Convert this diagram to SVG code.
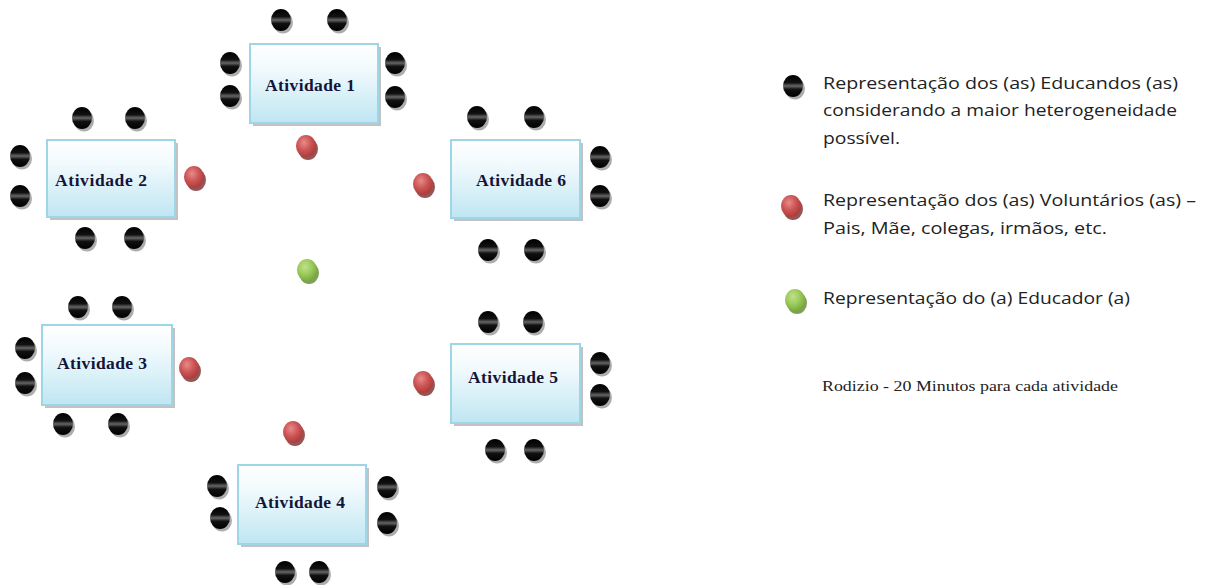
<svg xmlns="http://www.w3.org/2000/svg" xmlns:xlink="http://www.w3.org/1999/xlink" width="1211" height="585" viewBox="0 0 1211 585">
<style>
.tbl{fill:url(#tg);stroke:#9ed6e8;stroke-width:2}
.sh{fill:#a8a8a8;opacity:0.7}
.lbl{font-family:"Liberation Serif","Times New Roman",serif;font-weight:bold;font-size:17.5px;fill:#141438;text-anchor:middle}
.leg{font-family:"Open Sans","Liberation Sans",sans-serif;font-size:17px;fill:#222}
.rod{font-family:"Liberation Serif",serif;font-size:14px;fill:#222}
</style>
<defs>
<linearGradient id="tg" x1="0" y1="0" x2="0" y2="1">
<stop offset="0" stop-color="#ffffff"/><stop offset="0.3" stop-color="#f2fafd"/><stop offset="1" stop-color="#bfe6f2"/>
</linearGradient>
<linearGradient id="bk" x1="0" y1="0" x2="0" y2="1">
<stop offset="0" stop-color="#000"/><stop offset="0.35" stop-color="#111"/><stop offset="0.5" stop-color="#666"/><stop offset="0.65" stop-color="#111"/><stop offset="1" stop-color="#000"/>
</linearGradient>
<radialGradient id="rd" cx="0.4" cy="0.35" r="0.7">
<stop offset="0" stop-color="#e88a8a"/><stop offset="0.5" stop-color="#cc5555"/><stop offset="1" stop-color="#a83838"/>
</radialGradient>
<radialGradient id="gr" cx="0.4" cy="0.35" r="0.7">
<stop offset="0" stop-color="#c2e08a"/><stop offset="0.5" stop-color="#9ccb5c"/><stop offset="1" stop-color="#74a63a"/>
</radialGradient>
<g id="b">
<ellipse cx="2" cy="2.5" rx="10" ry="11" fill="#777" opacity="0.6"/>
<ellipse cx="0" cy="0" rx="10" ry="11" fill="url(#bk)"/>
</g>
<g id="r">
<ellipse cx="2" cy="3" rx="10" ry="11" fill="#7a2a2a" opacity="0.8"/>
<ellipse cx="0" cy="0" rx="10" ry="11" fill="url(#rd)"/>
</g>
<g id="g">
<ellipse cx="2" cy="3" rx="10" ry="11" fill="#5e8a2c" opacity="0.8"/>
<ellipse cx="0" cy="0" rx="10" ry="11" fill="url(#gr)"/>
</g>
</defs>
<rect width="1211" height="585" fill="#fff"/>

<g id="atividade1">
<rect class="sh" x="253" y="47" width="128" height="79"/>
<rect class="tbl" x="250" y="44" width="128" height="79"/>
<text class="lbl" x="310" y="91" textLength="90">Atividade 1</text>
<use xlink:href="#b" x="281" y="20"/><use xlink:href="#b" x="337" y="20"/>
<use xlink:href="#b" x="230" y="63"/><use xlink:href="#b" x="230" y="96"/>
<use xlink:href="#b" x="395" y="63"/><use xlink:href="#b" x="395" y="97"/>
<use xlink:href="#r" x="306" y="146"/>
</g>

<g id="atividade2">
<rect class="sh" x="50" y="143" width="128" height="77"/>
<rect class="tbl" x="47" y="140" width="128" height="77"/>
<text class="lbl" x="101" y="186" textLength="92">Atividade 2</text>
<use xlink:href="#b" x="82" y="118"/><use xlink:href="#b" x="135" y="118"/>
<use xlink:href="#b" x="20" y="156"/><use xlink:href="#b" x="20" y="196"/>
<use xlink:href="#b" x="85" y="238"/><use xlink:href="#b" x="134" y="238"/>
<use xlink:href="#r" x="194" y="177"/>
</g>

<g id="atividade3">
<rect class="sh" x="45" y="328" width="130" height="80"/>
<rect class="tbl" x="42" y="325" width="130" height="80"/>
<text class="lbl" x="102" y="369" textLength="90">Atividade 3</text>
<use xlink:href="#b" x="78" y="307"/><use xlink:href="#b" x="122" y="307"/>
<use xlink:href="#b" x="25" y="348"/><use xlink:href="#b" x="25" y="383"/>
<use xlink:href="#b" x="63" y="424"/><use xlink:href="#b" x="118" y="424"/>
<use xlink:href="#r" x="189" y="368"/>
</g>

<g id="atividade4">
<rect class="sh" x="241" y="468" width="128" height="79"/>
<rect class="tbl" x="238" y="465" width="128" height="79"/>
<text class="lbl" x="300" y="508" textLength="90">Atividade 4</text>
<use xlink:href="#b" x="217" y="486"/><use xlink:href="#b" x="220" y="518"/>
<use xlink:href="#b" x="387" y="487"/><use xlink:href="#b" x="387" y="523"/>
<use xlink:href="#b" x="285" y="572"/><use xlink:href="#b" x="319" y="572"/>
<use xlink:href="#r" x="293" y="432"/>
</g>

<g id="atividade5">
<rect class="sh" x="454" y="347" width="129" height="79"/>
<rect class="tbl" x="451" y="344" width="129" height="79"/>
<text class="lbl" x="513" y="383" textLength="90">Atividade 5</text>
<use xlink:href="#b" x="488" y="322"/><use xlink:href="#b" x="533" y="322"/>
<use xlink:href="#b" x="600" y="363"/><use xlink:href="#b" x="600" y="395"/>
<use xlink:href="#b" x="495" y="450"/><use xlink:href="#b" x="534" y="450"/>
<use xlink:href="#r" x="423" y="382"/>
</g>

<g id="atividade6">
<rect class="sh" x="454" y="143" width="129" height="78"/>
<rect class="tbl" x="451" y="140" width="129" height="78"/>
<text class="lbl" x="521" y="186" textLength="90">Atividade 6</text>
<use xlink:href="#b" x="477" y="117"/><use xlink:href="#b" x="534" y="117"/>
<use xlink:href="#b" x="600" y="157"/><use xlink:href="#b" x="600" y="196"/>
<use xlink:href="#b" x="488" y="250"/><use xlink:href="#b" x="534" y="250"/>
<use xlink:href="#r" x="423" y="184"/>
</g>

<g id="educador">
<use xlink:href="#g" x="307" y="270"/>
</g>

<g id="legenda">
<use xlink:href="#b" x="793" y="86"/>
<text class="leg" x="823" y="89" textLength="355" lengthAdjust="spacingAndGlyphs">Representação dos (as) Educandos (as)</text>
<text class="leg" x="823" y="116" textLength="354" lengthAdjust="spacingAndGlyphs">considerando a maior heterogeneidade</text>
<text class="leg" x="823" y="144" textLength="77" lengthAdjust="spacingAndGlyphs">possível.</text>
<use xlink:href="#r" x="791" y="206"/>
<text class="leg" x="823" y="206" textLength="373" lengthAdjust="spacingAndGlyphs">Representação dos (as) Voluntários (as) –</text>
<text class="leg" x="823" y="234" textLength="284" lengthAdjust="spacingAndGlyphs">Pais, Mãe, colegas, irmãos, etc.</text>
<use xlink:href="#g" x="795" y="300"/>
<text class="leg" x="823" y="304" textLength="307" lengthAdjust="spacingAndGlyphs">Representação do (a) Educador (a)</text>
<text class="rod" x="822" y="391" textLength="296" lengthAdjust="spacingAndGlyphs">Rodizio - 20 Minutos para cada atividade</text>
</g>
</svg>
